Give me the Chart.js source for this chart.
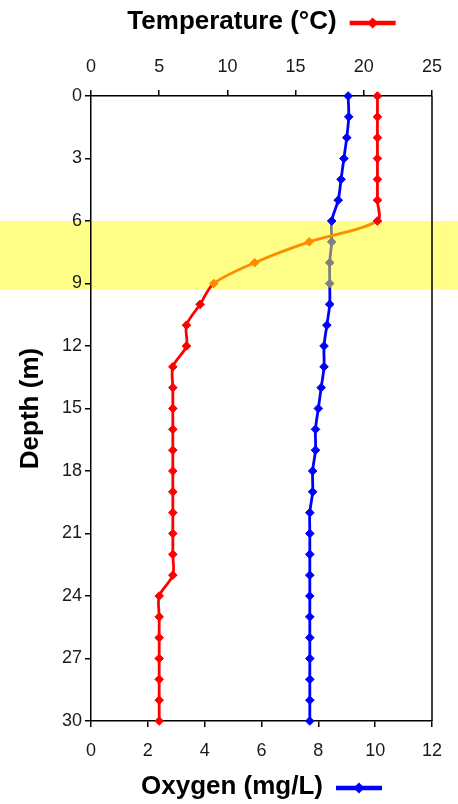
<!DOCTYPE html>
<html><head><meta charset="utf-8">
<script src="https://cdn.jsdelivr.net/npm/chart.js@4/dist/chart.umd.min.js"></script>
<style>html,body{margin:0;padding:0;background:#fff;}canvas{display:block;}</style>
</head><body>
<canvas id="c" width="458" height="804"></canvas>
<script>
// ---- data ----
const depths = [0,1,2,3,4,5,6,7,8,9,10,11,12,13,14,15,16,17,18,19,20,21,22,23,24,25,26,27,28,29,30];
const temperature = [21.0,21.0,21.0,21.0,21.0,21.0,21.0,16.0,12.0,9.0,8.0,7.0,7.0,6.0,6.0,6.0,6.0,6.0,6.0,6.0,6.0,6.0,6.0,6.0,5.0,5.0,5.0,5.0,5.0,5.0,5.0];
const oxygen = [9.05,9.07,9.0,8.9,8.8,8.7,8.47,8.47,8.4,8.4,8.4,8.3,8.2,8.2,8.1,8.0,7.9,7.9,7.8,7.8,7.7,7.7,7.7,7.7,7.7,7.7,7.7,7.7,7.7,7.7,7.7];
const band = [6, 9.3];              // highlighted depth range (m)
const depthTicks = [0, 30, 3];      // min, max, step
const tempTicks = [0, 25, 5];
const oxyTicks = [0, 12, 2];
const titles = {temp: 'Temperature (°C)', oxy: 'Oxygen (mg/L)', depth: 'Depth (m)'};

const FONT = '"Liberation Sans", Arial, Helvetica, sans-serif';
Chart.defaults.font.family = FONT;
const TXT = '#1a1a1a';
const RED = '#ff0000', BLUE = '#0000ff', ORANGE = '#ff8c00', GRAY = '#808080';

const inBand = d => d > band[0] && d <= band[1];

function mkDataset(vals, axis, base, alt) {
  return {
    data: depths.map((d, i) => ({x: vals[i], y: d})),
    xAxisID: axis, yAxisID: 'y',
    borderColor: base, borderWidth: 2.8,
    tension: 0.3,
    pointStyle: 'rectRot', pointRadius: 4.3, pointBorderWidth: 1,
    pointBackgroundColor: depths.map(d => inBand(d) ? alt : base),
    pointBorderColor: depths.map(d => inBand(d) ? alt : base),
    segment: { borderColor: ctx => inBand(depths[ctx.p1DataIndex]) ? alt : base },
    clip: false
  };
}

const bgPlugin = {
  id: 'bg',
  beforeDraw(chart) {
    const {ctx} = chart, y = chart.scales.y;
    ctx.save();
    ctx.fillStyle = '#fff';
    ctx.fillRect(0, 0, chart.width, chart.height);
    const t = y.getPixelForValue(band[0]), b = y.getPixelForValue(band[1]);
    ctx.fillStyle = '#ffff88';
    ctx.fillRect(0, t, chart.width, b - t);
    ctx.restore();
  }
};

function drawTitle(ctx, text, color, cx, baseY, lineY) {
  ctx.save();
  ctx.font = 'bold 26px ' + FONT;
  const w = ctx.measureText(text).width;
  const gap = 13, len = 46;
  const x0 = cx - (w + gap + len) / 2;
  ctx.fillStyle = '#000';
  ctx.textAlign = 'left';
  ctx.textBaseline = 'alphabetic';
  ctx.fillText(text, x0, baseY);
  const sx = x0 + w + gap;
  ctx.strokeStyle = color; ctx.lineWidth = 4.5;
  ctx.beginPath(); ctx.moveTo(sx, lineY); ctx.lineTo(sx + len, lineY); ctx.stroke();
  const mx = sx + len / 2, r = 5.5;
  ctx.fillStyle = color;
  ctx.beginPath(); ctx.moveTo(mx, lineY - r); ctx.lineTo(mx + r, lineY); ctx.lineTo(mx, lineY + r); ctx.lineTo(mx - r, lineY); ctx.closePath(); ctx.fill();
  ctx.restore();
}

const framePlugin = {
  id: 'frame',
  afterDraw(chart) {
    const {ctx, chartArea: a} = chart;
    ctx.save();
    ctx.strokeStyle = '#000'; ctx.lineWidth = 1.5;
    ctx.beginPath(); ctx.moveTo(a.right, a.top); ctx.lineTo(a.right, a.bottom); ctx.stroke();
    ctx.restore();
    const cx = (a.left + a.right) / 2;
    drawTitle(ctx, titles.temp, RED, cx, a.top - 67, a.top - 73);
    drawTitle(ctx, titles.oxy, BLUE, cx, a.bottom + 73, a.bottom + 67);
  }
};

const axisCommon = {
  grid: {drawOnChartArea: false, drawTicks: true, tickLength: 6, color: '#000', lineWidth: 1.5},
  border: {display: true, color: '#000', width: 1.5}
};

new Chart(document.getElementById('c'), {
  type: 'line',
  data: { datasets: [
    mkDataset(temperature, 'xT', RED, ORANGE),
    mkDataset(oxygen, 'xO', BLUE, GRAY)
  ]},
  options: {
    responsive: false, animation: false, devicePixelRatio: 1,
    events: [],
    layout: {padding: {left: 0, right: 26, top: 0, bottom: 0}},
    plugins: {legend: {display: false}, tooltip: {enabled: false}},
    scales: {
      y: Object.assign({}, axisCommon, {
        type: 'linear', position: 'left', reverse: true,
        min: depthTicks[0], max: depthTicks[1],
        ticks: {stepSize: depthTicks[2], color: TXT, font: {size: 18}, padding: 3},
        title: {display: true, text: titles.depth, color: '#000', font: {size: 26, weight: 'bold'}, padding: {top: 15, bottom: 0}},
        afterFit(s) { s.width = 91; }
      }),
      xT: Object.assign({}, axisCommon, {
        type: 'linear', position: 'top',
        min: tempTicks[0], max: tempTicks[1],
        ticks: {stepSize: tempTicks[2], color: TXT, font: {size: 18}, padding: 12},
        afterFit(s) { s.height = 96; }
      }),
      xO: Object.assign({}, axisCommon, {
        type: 'linear', position: 'bottom',
        min: oxyTicks[0], max: oxyTicks[1],
        ticks: {stepSize: oxyTicks[2], color: TXT, font: {size: 18}, padding: 13},
        afterFit(s) { s.height = 83; }
      })
    }
  },
  plugins: [bgPlugin, framePlugin]
});
</script>
</body></html>
